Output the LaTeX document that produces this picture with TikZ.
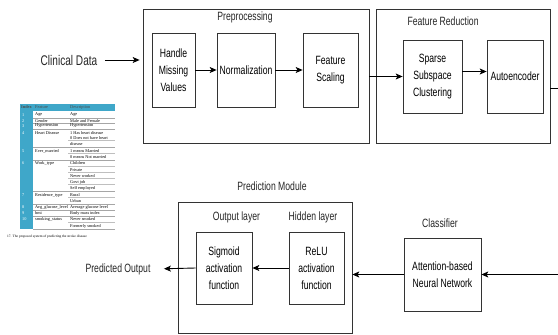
\documentclass[tikz,border=0pt]{standalone}
\usepackage{fontspec}
\newfontfamily\diagfont[FakeStretch=0.72]{Liberation Sans}
\newfontfamily\tabfont{Liberation Serif}
\usetikzlibrary{arrows.meta,positioning,calc}
\definecolor{boxline}{HTML}{333333}
\definecolor{tabteal}{HTML}{3FA7C9}

\begin{document}
\begin{tikzpicture}[x=1pt, y=-1pt,
  stage/.style={draw=boxline, line width=0.7pt, align=center, inner sep=1pt,
    font=\diagfont\fontsize{12}{17}\selectfont},
  module/.style={draw=boxline, line width=0.7pt},
  label/.style={font=\diagfont\fontsize{12}{14}\selectfont, text=black!85},
  flow/.style={line width=0.9pt, -{Stealth[length=7pt,width=6pt,inset=1.8pt]}},
  tabtxt/.style={font=\tabfont\fontsize{4.3}{6}\selectfont, inner sep=0pt, anchor=west}]
  \useasboundingbox (0,0) rectangle (558,335);
  \fill[white] (0,0) rectangle (558,335);
  \clip (0,0) rectangle (558,335);

  % input
  \node[label, font=\diagfont\fontsize{14}{16}\selectfont] (clinical) at (69,60) {Clinical Data};

  % preprocessing
  \node[module, minimum width=226, minimum height=134] (pre) at (256,76) {};
  \node[label] (pretitle) at (245,17) {Preprocessing};
  \node[stage, minimum width=43, minimum height=74] (missing) at (173.5,70) {Handle\\Missing\\Values};
  \node[stage, minimum width=58, minimum height=74] (norm) at (246,70) {Normalization};
  \node[stage, minimum width=55, minimum height=74] (scaling) at (330.5,70) {Feature\\Scaling};

  % feature reduction
  \node[module, minimum width=174, minimum height=134] (red) at (463,76) {};
  \node[label, anchor=west] (redtitle) at (404,21) {Feature Reduction};
  \node[stage, minimum width=59, minimum height=73] (ssc) at (432.5,76.5) {Sparse\\Subspace\\Clustering};
  \node[stage, minimum width=56, minimum height=73] (auto) at (515,76.5) {Autoencoder};

  % classifier
  \node[stage, minimum width=77, minimum height=73] (cls) at (442.5,274.5) {Attention-based\\Neural Network};
  \node[label] (clstitle) at (440,223) {Classifier};

  % prediction module
  \node[module, minimum width=174, minimum height=131] (pm) at (265,267.5) {};
  \node[label] (pmtitle) at (272,186) {Prediction Module};
  \node[stage, minimum width=56, minimum height=72] (sig) at (224,268) {Sigmoid\\activation\\function};
  \node[stage, minimum width=55, minimum height=72] (relu) at (316.5,268) {ReLU\\activation\\function};
  \node[label] (outlayer) at (236.5,217) {Output layer};
  \node[label] (hidlayer) at (313,217) {Hidden layer};
  \node[label] (pred) at (118,269) {Predicted Output};

  % connectors
  \draw[flow, shorten <=4pt, shorten >=3pt] (clinical.east) -- (clinical.east -| pre.west);
  \draw[flow] (missing.east) -- (norm.west);
  \draw[flow] (norm.east) -- (scaling.west);
  \draw[flow] (ssc.west -| pre.east) -- (ssc.west);
  \draw[flow] ([yshift=5pt]ssc.east) -- ([yshift=5pt]auto.west);
  \draw[flow] ([yshift=-12pt]red.east) -- ++(20,0) |- (cls.east);
  \draw[flow] (cls.west) -- (cls.west -| pm.east);
  \draw[flow] (relu.west) -- (sig.east);
  \draw[flow, shorten >=10pt] (sig.west) -- (pred.east);

  % table pasted from the paper
  \fill[tabteal] (20,104) rectangle (115,111);
  \fill[tabteal] (20,111) rectangle (33,229);
  \foreach \yy in {118,123.5,129,147,160,191,204,210,216,229}
    \draw[gray!70, line width=0.3pt] (33,\yy) -- (115,\yy);
  \foreach \yy in {140.5,153.5,166.5,172.5,178.5,184.5,197.5,222.5}
    \draw[gray!50, line width=0.2pt] (68,\yy) -- (115,\yy);
  \node[tabtxt, font=\tabfont\bfseries\fontsize{4.3}{6}\selectfont, text=black!70] (hidx) at (21,107.5) {Index};
  \node[tabtxt, text=black!70] (hfeat) at (35,107.5) {Feature};
  \node[tabtxt, text=black!70] (hdesc) at (70,107.5) {Description};
  \foreach \yy/\txt [count=\i] in {115/Age, 121/Gender, 126/Hypertension, 133/Heart Disease,
      151/Ever\_married, 163/Work\_type, 195/Residence\_type, 207/Avg\_glucose\_level,
      213/bmi, 219/smoking\_status} {
    \node[tabtxt, text=white] (idx\i) at (22,\yy) {\i};
    \node[tabtxt] (feat\i) at (35,\yy) {\txt};
  }
  \foreach \yy/\txt [count=\i] in {115/Age, 121/Male and Female, 126/Hypertension,
      133/1 Has heart disease, 138/0 Does not have heart, 144/disease,
      151/1 means Married, 157/0 means Not married,
      163/Children, 170/Private, 176/Never worked, 182/Govt job, 188/Self employed,
      195/Rural, 201/Urban, 207/Average glucose level, 213/Body mass index,
      219/Never smoked, 226/Formerly smoked}
    \node[tabtxt] (desc\i) at (70,\yy) {\txt};
  \node[tabtxt, font=\tabfont\fontsize{3.5}{4}\selectfont] (tabcap) at (7,237)
    {17. The proposed system of predicting the stroke disease};
\end{tikzpicture}
\end{document}
